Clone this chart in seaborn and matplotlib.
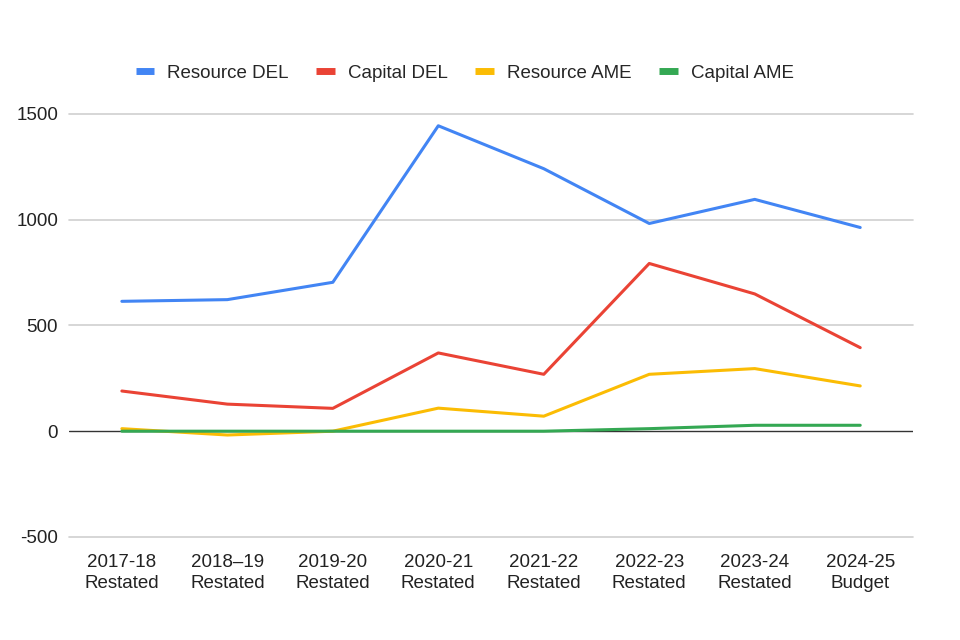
import pandas as pd
import matplotlib
matplotlib.use('Agg')
import matplotlib.pyplot as plt
import seaborn as sns

# Data
years = ['2017-18\nRestated', '2018\u201319\nRestated', '2019-20\nRestated', '2020-21\nRestated',
         '2021-22\nRestated', '2022-23\nRestated', '2023-24\nRestated', '2024-25\nBudget']
resource_del = [614, 622, 704, 1444, 1241, 982, 1096, 963]
capital_del = [190, 128, 108, 370, 269, 793, 649, 395]
resource_ame = [12, -18, 0, 109, 71, 269, 296, 214]
capital_ame = [0, 0, 0, 0, 0, 12, 28, 28]

series_names = ['Resource DEL', 'Capital DEL', 'Resource AME', 'Capital AME']
colors = ['#4285F4', '#EA4335', '#FBBC04', '#34A853']


def build_frame():
    rows = []
    for name, vals in zip(series_names, [resource_del, capital_del, resource_ame, capital_ame]):
        for i, v in enumerate(vals):
            rows.append({'pos': i, 'year': years[i], 'series': name, 'value': v})
    return pd.DataFrame(rows)


def main():
    df = build_frame()

    sns.set_style('white')
    plt.rcParams['font.family'] = ['Liberation Sans', 'DejaVu Sans']
    plt.rcParams['axes.unicode_minus'] = False

    fig = plt.figure(figsize=(9.6, 6.4), dpi=100)
    ax = fig.add_axes([0.072, 0.161, 0.879, 0.661])

    sns.lineplot(data=df, x='pos', y='value', hue='series', hue_order=series_names,
                 palette=colors, linewidth=2.2, ax=ax, legend=False, zorder=3)

    ax.set_xlim(-0.5, len(years) - 0.5)
    ax.set_ylim(-500, 1500)
    ax.set_yticks([-500, 0, 500, 1000, 1500])
    ax.set_xticks(range(len(years)))
    ax.set_xticklabels(years, linespacing=1.3)
    ax.tick_params(axis='both', length=0, labelsize=13.5, colors='#222222')
    ax.tick_params(axis='y', pad=8)
    ax.tick_params(axis='x', pad=12)
    ax.set_xlabel('')
    ax.set_ylabel('')

    for y in [-500, 500, 1000, 1500]:
        ax.axhline(y, color='#d0d0d0', linewidth=1.2, zorder=1, clip_on=False)
    ax.axhline(0, color='#333333', linewidth=1.0, zorder=2)

    for side in ['top', 'right', 'left', 'bottom']:
        ax.spines[side].set_visible(False)

    handles = [plt.Line2D([0], [0], color=c, linewidth=5, solid_capstyle='butt') for c in colors]
    fig.legend(handles, series_names, loc='center', bbox_to_anchor=(0.484, 0.886), ncol=4,
               frameon=False, fontsize=13.5, handlelength=1.0, handletextpad=0.7,
               columnspacing=1.45)

    fig.savefig('out.png', dpi=100)


if __name__ == "__main__":
    main()
